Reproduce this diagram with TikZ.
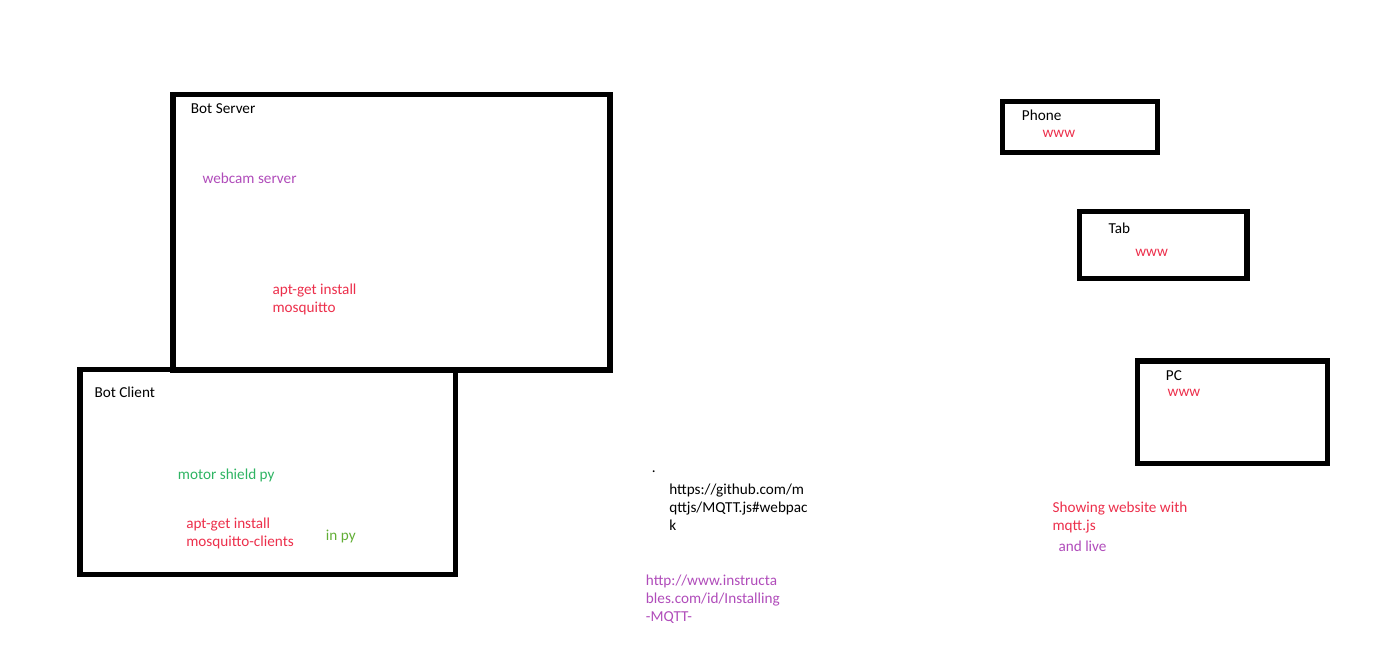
\documentclass[tikz,border=0pt]{standalone}
\usepackage{fontspec}
\setmainfont{Carlito}
\usepackage{tikz}
\usetikzlibrary{positioning}

\definecolor{redtxt}{HTML}{EC2F4B}
\definecolor{purpletxt}{HTML}{B04CBA}
\definecolor{greentxt}{HTML}{2FB463}
\definecolor{limetxt}{HTML}{62AE36}

\begin{document}
\begin{tikzpicture}[x=0.75pt, y=-0.75pt, font=\fontsize{11.4}{13.5}\selectfont]
    \tikzstyle{box}=[draw, line width=4.1pt, rectangle, inner sep=0pt]
    \tikzstyle{txt}=[anchor=base west, inner sep=0pt, align=left]

    \useasboundingbox (0,0) rectangle (1383,670);

    % machines
    \node[box, minimum width=327.75pt, minimum height=206.6pt] (server) at (391.5,232.25) {};
    \node[box, minimum width=281.6pt, minimum height=153.75pt] (client) at (267.75,472) {};
    \node[box, minimum width=116.25pt, minimum height=38.25pt] (phone) at (1080,127) {};
    \node[box, minimum width=125.5pt, minimum height=50.25pt] (tab) at (1163.3,245) {};
    \node[box, minimum width=142.5pt, minimum height=76.9pt] (pc) at (1232.5,412.25) {};

    % bot server
    \node[txt] (servertitle) at (190.7,114) {Bot Server};
    \node[txt, text=purpletxt] (webcam) at (202.3,184) {webcam server};
    \node[txt, text=redtxt] (mosq) at (272.3,312.5) {apt-get install\\mosquitto};

    % bot client
    \node[txt] (clienttitle) at (94.3,397) {Bot Client};
    \node[txt, text=greentxt] (motor) at (177.7,479) {motor shield py};
    \node[txt, text=redtxt] (mosqclients) at (186,546.5) {apt-get install\\mosquitto-clients};
    \node[txt, text=limetxt] (inpy) at (325.7,540) {in py};

    % links
    \node[txt] (dot) at (651.7,472.5) {.};
    \node[txt] (github) at (669,530) {https://github.com/m\\qttjs/MQTT.js\#webpac\\k};
    \node[txt, text=purpletxt] (instruct) at (645.7,621) {http://www.instructa\\bles.com/id/Installing\\-MQTT-};

    % devices
    \node[txt] (phonetitle) at (1021.7,121) {Phone};
    \node[txt, text=redtxt] (phonewww) at (1042.3,137.5) {www};
    \node[txt] (tabtitle) at (1108.3,233.5) {Tab};
    \node[txt, text=redtxt] (tabwww) at (1135,256.5) {www};
    \node[txt] (pctitle) at (1165.7,380) {PC};
    \node[txt, text=redtxt] (pcwww) at (1167.3,396.5) {www};

    \node[txt, text=redtxt] (showing) at (1052.3,530.5) {Showing website with\\mqtt.js};
    \node[txt, text=purpletxt] (live) at (1058.3,551.5) {and live};

  \end{tikzpicture}
\end{document}
